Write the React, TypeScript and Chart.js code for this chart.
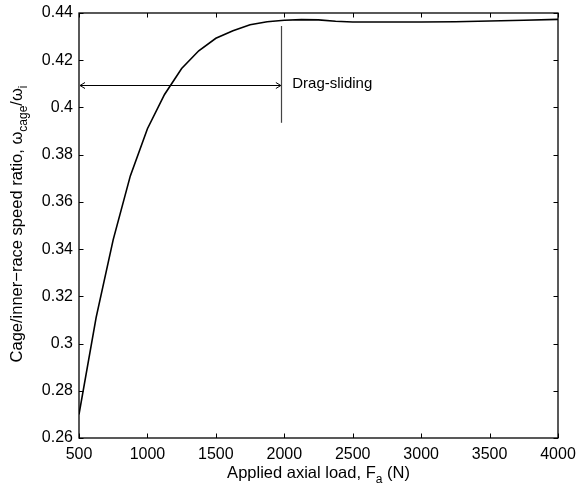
import React, { useEffect, useRef } from "react";
import { Chart, registerables } from "chart.js";

Chart.register(...registerables);

// Applied axial load (N)
const loads = [500, 625, 750, 875, 1000, 1125, 1250, 1375, 1500, 1625, 1750, 1875, 2000, 2125, 2250, 2375, 2500, 2750, 3000, 3250, 3500, 3750, 4000];
// Cage / inner-race speed ratio
const ratios = [0.270, 0.311, 0.344, 0.371, 0.391, 0.4055, 0.4165, 0.424, 0.4293, 0.4325, 0.435, 0.4363, 0.4369, 0.4372, 0.4371, 0.4365, 0.4362, 0.4362, 0.4362, 0.4363, 0.4366, 0.4369, 0.4373];

const xTicks = [500, 1000, 1500, 2000, 2500, 3000, 3500, 4000];
const yTicks = [0.26, 0.28, 0.3, 0.32, 0.34, 0.36, 0.38, 0.4, 0.42, 0.44];

// annotation (data space)
const arrowY = 0.4095;
const arrowX0 = 500;
const arrowX1 = 1975;
const markerX = 1975;
const markerY0 = 0.3935;
const markerY1 = 0.4345;
const labelX = 2058;
const labelText = "Drag-sliding";

const FONT = "'Liberation Sans', Arial, Helvetica, sans-serif";

type Seg = { t: string; sub?: boolean };

function segWidth(ctx: CanvasRenderingContext2D, segs: Seg[], size: number, subSize: number) {
  let w = 0;
  for (const s of segs) {
    ctx.font = `${s.sub ? subSize : size}px ${FONT}`;
    w += ctx.measureText(s.t).width;
  }
  return w;
}

function drawSegs(ctx: CanvasRenderingContext2D, segs: Seg[], x: number, y: number, size: number, subSize: number, subOff: number) {
  let cx = x;
  ctx.textBaseline = "alphabetic";
  ctx.textAlign = "left";
  for (const s of segs) {
    ctx.font = `${s.sub ? subSize : size}px ${FONT}`;
    ctx.fillText(s.t, cx, s.sub ? y + subOff : y);
    cx += ctx.measureText(s.t).width;
  }
}

const xTitle: Seg[] = [{ t: "Applied axial load, F" }, { t: "a", sub: true }, { t: " (N)" }];
const yTitle: Seg[] = [
  { t: "Cage/inner\u2212race speed ratio, \u03c9" },
  { t: "cage", sub: true },
  { t: "/\u03c9" },
  { t: "i", sub: true },
];

const framePlugin = {
  id: "frame",
  afterDatasetsDraw(chart: any) {
    const { ctx, chartArea: a, scales } = chart;
    const xs = scales.x;
    const ys = scales.y;
    ctx.save();
    // box
    ctx.strokeStyle = "#000";
    ctx.lineWidth = 1.3;
    ctx.strokeRect(a.left, a.top, a.right - a.left, a.bottom - a.top);
    // inward ticks
    const tl = 4.5;
    ctx.lineWidth = 1;
    ctx.beginPath();
    for (const v of xTicks) {
      const px = Math.round(xs.getPixelForValue(v)) + 0.5;
      ctx.moveTo(px, a.bottom);
      ctx.lineTo(px, a.bottom - tl);
      ctx.moveTo(px, a.top);
      ctx.lineTo(px, a.top + tl);
    }
    for (const v of yTicks) {
      const py = Math.round(ys.getPixelForValue(v)) + 0.5;
      ctx.moveTo(a.left, py);
      ctx.lineTo(a.left + tl, py);
      ctx.moveTo(a.right, py);
      ctx.lineTo(a.right - tl, py);
    }
    ctx.stroke();

    // annotation arrow
    const ay = Math.round(ys.getPixelForValue(arrowY)) + 0.5;
    const ax0 = xs.getPixelForValue(arrowX0) + 1;
    const ax1 = xs.getPixelForValue(arrowX1);
    ctx.strokeStyle = "#000";
    ctx.lineWidth = 1;
    ctx.beginPath();
    ctx.moveTo(ax0, ay);
    ctx.lineTo(ax1, ay);
    ctx.moveTo(ax0 + 5, ay - 3);
    ctx.lineTo(ax0, ay);
    ctx.lineTo(ax0 + 5, ay + 3);
    ctx.moveTo(ax1 - 5, ay - 3);
    ctx.lineTo(ax1, ay);
    ctx.lineTo(ax1 - 5, ay + 3);
    ctx.stroke();
    // marker line
    const mx = Math.round(xs.getPixelForValue(markerX)) + 0.5;
    ctx.strokeStyle = "#444";
    ctx.lineWidth = 1.2;
    ctx.beginPath();
    ctx.moveTo(mx, ys.getPixelForValue(markerY1));
    ctx.lineTo(mx, ys.getPixelForValue(markerY0));
    ctx.stroke();
    // label
    ctx.fillStyle = "#000";
    ctx.font = `15px ${FONT}`;
    ctx.textAlign = "left";
    ctx.textBaseline = "middle";
    ctx.fillText(labelText, xs.getPixelForValue(labelX), ay - 2);
    ctx.restore();
  },
  afterDraw(chart: any) {
    const { ctx, chartArea: a } = chart;
    ctx.save();
    ctx.fillStyle = "#000";
    // x title
    const size = 16.5, sub = 12, off = 4.5;
    const wx = segWidth(ctx, xTitle, size, sub);
    drawSegs(ctx, xTitle, (a.left + a.right) / 2 - wx / 2, 478, size, sub, off);
    // y title
    const wy = segWidth(ctx, yTitle, size, sub);
    ctx.translate(22, 224);
    ctx.rotate(-Math.PI / 2);
    drawSegs(ctx, yTitle, -wy / 2, 0, size, sub, off);
    ctx.restore();
  },
};

export default function App() {
  const ref = useRef<HTMLCanvasElement | null>(null);
  useEffect(() => {
    if (!ref.current) return;
    const chart = new Chart(ref.current, {
      type: "scatter",
      data: {
        datasets: [
          {
            data: loads.map((x, i) => ({ x, y: ratios[i] })),
            showLine: true,
            borderColor: "#000",
            borderWidth: 1.6,
            pointRadius: 0,
            tension: 0,
          },
        ],
      },
      options: {
        animation: false,
        responsive: false,
        devicePixelRatio: 1,
        layout: { padding: { top: 13, right: 20, left: 0, bottom: 0 } },
        plugins: { legend: { display: false }, tooltip: { enabled: false } },
        scales: {
          x: {
            type: "linear",
            min: 500,
            max: 4000,
            afterFit: (s: any) => { s.height = 52; s.paddingLeft = 0; s.paddingRight = 0; },
            afterBuildTicks: (s: any) => { s.ticks = xTicks.map((v) => ({ value: v })); },
            grid: { display: false, drawTicks: false },
            border: { display: false },
            ticks: {
              color: "#000",
              padding: 7,
              font: { family: FONT, size: 16 },
              maxRotation: 0,
              autoSkip: false,
              callback: (v: any) => String(v),
            },
          },
          y: {
            type: "linear",
            min: 0.26,
            max: 0.44,
            afterFit: (s: any) => { s.width = 79; s.paddingTop = 0; s.paddingBottom = 0; },
            afterBuildTicks: (s: any) => { s.ticks = yTicks.map((v) => ({ value: v })); },
            grid: { display: false, drawTicks: false },
            border: { display: false },
            ticks: {
              color: "#000",
              padding: 6,
              font: { family: FONT, size: 16 },
              autoSkip: false,
              callback: (v: any) => String(Number(Number(v).toFixed(2))),
            },
          },
        },
      },
      plugins: [framePlugin],
    });
    return () => chart.destroy();
  }, []);
  return (
    <div style={{ position: "absolute", left: 0, top: 0, width: 578, height: 490, background: "#fff" }}>
      <canvas ref={ref} width={578} height={490} style={{ display: "block" }} />
    </div>
  );
}
